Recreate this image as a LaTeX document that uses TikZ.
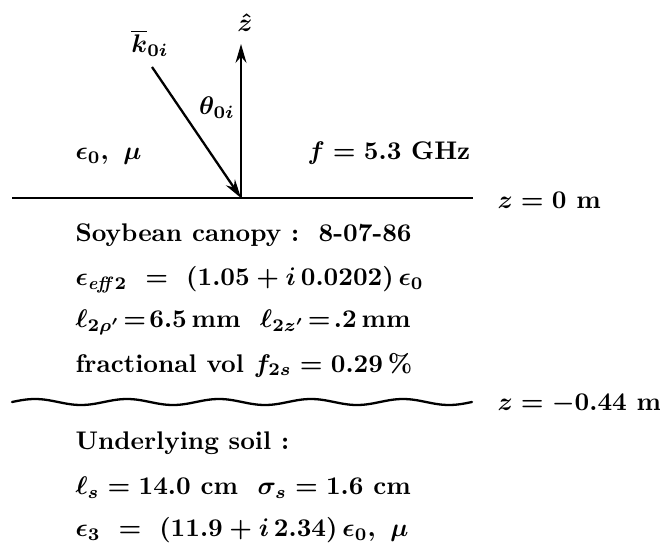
\documentclass[tikz,border=0pt]{standalone}
\usepackage{amsmath}
\usetikzlibrary{arrows.meta}
\tikzset{
  >={Stealth[length=2.6mm,width=1.5mm]},
  lbl/.style={font=\bfseries\boldmath,inner sep=0pt},
  row/.style={lbl,anchor=west},
  bound/.style={line width=0.9pt},
}

\begin{document}
\begin{tikzpicture}[x=0.392pt,y=-0.392pt]
  \useasboundingbox (0,0) rectangle (660,547);
  % interface z = 0
  \coordinate (L0) at (12,198);
  \coordinate (R0) at (473,198);
  \coordinate (o) at (241,198);
  \coordinate (ztip) at (241,44);
  \coordinate (kst) at (152,67);
  \draw[bound] (L0) -- (R0);
  \draw[bound,->] (o) -- (ztip);
  \draw[bound,->] (kst) -- (o);
  \node[lbl] (zhat) at (245,23) {$\hat{z}$};
  \node[lbl] (kvec) at (150,43) {$\overline{k}_{0i}$};
  \node[lbl] (theta) at (217,108) {$\theta_{0i}$};
  \node[lbl,anchor=west] (med0) at (75,156) {$\epsilon_0,\ \mu$};
  \node[lbl,anchor=west] (freq) at (307,153) {$f=5.3$ GHz};
  \node[row] (z0) at (497,200) {$z=0$ m};
  % canopy layer
  \node[row] (c1) at (75,235) {Soybean canopy :\ \ 8-07-86};
  \node[row] (c2) at (75,280) {$\epsilon_{\mathit{eff}2}\ =\ (1.05+i\,0.0202)\,\epsilon_0$};
  \node[row] (c3) at (75,322) {$\ell_{2\rho'}\!=\!6.5\,\mathrm{mm}\ \ \ell_{2z'}\!=\!.2\,\mathrm{mm}$};
  \node[row] (c4) at (75,365) {fractional vol $f_{2s}=0.29\,\%$};
  % rough interface z = -d
  \draw[bound,line cap=round] plot[domain=12:472,samples=160,smooth] (\x,{402-3*sin(3.913*(\x-12))});
  \node[row] (z1) at (497,404) {$z=-0.44$ m};
  % soil
  \node[row] (s1) at (75,443) {Underlying soil :};
  \node[row] (s2) at (75,488) {$\ell_s=14.0$ cm\ \ $\sigma_s=1.6$ cm};
  \node[row] (s3) at (75,530) {$\epsilon_3\ =\ (11.9+i\,2.34)\,\epsilon_0,\ \mu$};
\end{tikzpicture}
\end{document}
